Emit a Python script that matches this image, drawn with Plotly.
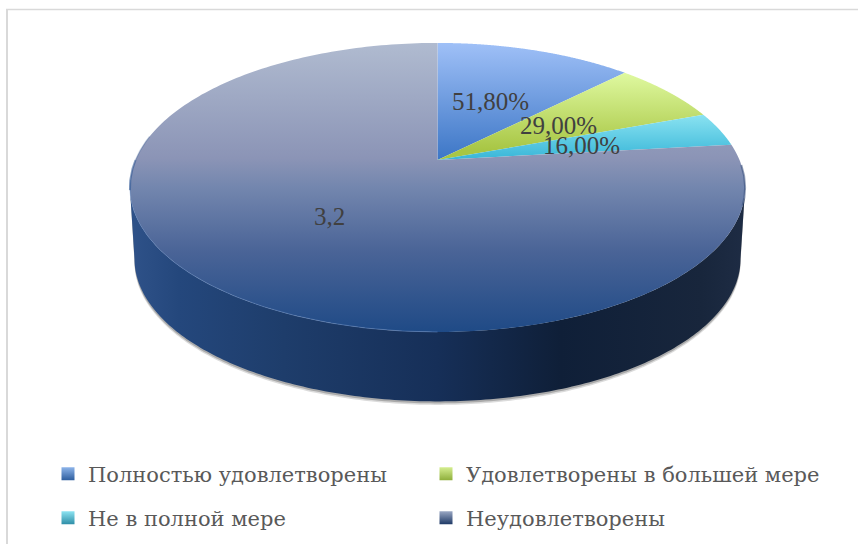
import numpy as np
import plotly.graph_objects as go

categories = ["Полностью удовлетворены", "Удовлетворены в большей мере", "Не в полной мере", "Неудовлетворены"]
values = [0.518, 0.29, 0.16, 3.2]
value_labels = ["51,80%", "29,00%", "16,00%", "3,2"]

top_scales = [
    [[0, "#9FC0F7"], [1, "#3C76C6"]],
    [[0, "#DFF9A0"], [1, "#A8C644"]],
    [[0, "#8DE4F2"], [1, "#38B6D8"]],
    [[0, "#B0BBD0"], [0.40, "#8B94B6"], [0.50, "#7386AE"], [0.72, "#4A6497"], [1, "#1F4A86"]],
]
top_ranges = [(43, 160), (73, 150), (113, 160), (43, 332)]
legend_colors = [("#8DB4EA", "#2F5F9F"), ("#D5EE90", "#8FAF3C"), ("#8DE4F2", "#2F8FA8"), ("#9AA8C4", "#1F3A66")]
legend_names = ["legend", "legend2", "legend3", "legend4"]
legend_x_px = [48, 426, 48, 426]
legend_y_px = [474, 474, 518, 518]

CX, CY, BX, BY, K = 437.5, 160.0, 302.0, 139.3, 0.19
DEPTH, SHRINK = 72.0, 0.985


def project(angle_deg, r=1.0, depth=0.0, scale=1.0):
    """Pie-plane polar position to page position: clockwise degrees from 12 o'clock."""
    a = np.radians(angle_deg)
    u, v = r * np.sin(a), r * np.cos(a)
    d = 1 + K * v
    return CX + scale * BX * u / d, CY - scale * BY * v / d + depth


fractions = np.array(values) / sum(values)
edges = np.concatenate([[0], np.cumsum(fractions)]) * 360

fig = go.Figure()

# front wall: front arc of the top rim joined to the lower rim
alpha = np.degrees(np.arcsin(K))
front = np.linspace(90 + alpha, 270 - alpha, 200)
x_top, y_top = project(front)
x_low, y_low = project(front[::-1], depth=DEPTH, scale=SHRINK)

# soft cast shadow under the wall
for extra, op in [(3.5, 0.25), (2.0, 0.45)]:
    xs, ys = project(front[::-1], depth=DEPTH + extra, scale=SHRINK)
    fig.add_trace(go.Scatter(x=np.r_[x_top, xs], y=np.r_[y_top, ys], fill="toself", mode="none",
                             fillcolor=f"rgba(110,110,110,{op})", showlegend=False, hoverinfo="skip"))
fig.add_trace(go.Scatter(
    x=np.r_[x_top, x_low], y=np.r_[y_top, y_low], fill="toself", mode="none", showlegend=False, hoverinfo="skip",
    fillgradient=dict(type="horizontal", start=130, stop=745, colorscale=[
        [0, "#2F5289"], [0.08, "#24477C"], [0.25, "#1E3D6B"], [0.50, "#162F58"], [0.70, "#0F1F38"],
        [0.93, "#18263C"], [1, "#1E2C44"]]),
))

# top surface wedges
for i in range(len(values)):
    ang = np.linspace(edges[i], edges[i + 1], 240)
    x, y = project(ang)
    fig.add_trace(go.Scatter(
        x=np.r_[CX, x, CX], y=np.r_[CY, y, CY], fill="toself", mode="none", showlegend=False, hoverinfo="skip",
        fillgradient=dict(type="vertical", start=top_ranges[i][0], stop=top_ranges[i][1], colorscale=top_scales[i]),
    ))

# bevel along the rim of the top face
for a0, a1, col, w in [(180, 262, "rgba(100,135,190,0.55)", 1.0),
                       (258, 270, "rgba(45,85,145,0.55)", 2.0),
                       (270, 280, "rgba(45,85,145,0.28)", 1.5),
                       (92, 108, "rgba(45,70,115,0.5)", 2.0)]:
    rim = np.linspace(a0, a1, 100)
    xr, yr = project(rim)
    fig.add_trace(go.Scatter(x=xr, y=yr, mode="lines", line=dict(color=col, width=w),
                             showlegend=False, hoverinfo="skip"))

# legend entries
for name, (c1, c2), lg in zip(categories, legend_colors, legend_names):
    fig.add_trace(go.Scatter(x=[None], y=[None], mode="markers", name=name, legend=lg, showlegend=True,
                             marker=dict(symbol="square", size=13, color=c1,
                                         gradient=dict(type="vertical", color=c2))))

# data labels
for i, txt in enumerate(value_labels):
    lx, ly = project((edges[i] + edges[i + 1]) / 2, r=0.5)
    fig.add_annotation(x=float(lx), y=float(ly) + 1, text=txt, showarrow=False,
                       font=dict(family="Liberation Serif", size=25, color="#404040"))

legend_style = dict(orientation="h", xanchor="left", yanchor="middle", bgcolor="rgba(0,0,0,0)",
                    font=dict(family="DejaVu Serif", size=21, color="#595959"))
legends = {lg: dict(x=px / 858, y=1 - py / 544, **legend_style)
           for lg, px, py in zip(legend_names, legend_x_px, legend_y_px)}

fig.update_layout(
    width=858, height=544, margin=dict(l=0, r=0, t=0, b=0), autosize=False,
    paper_bgcolor="white", plot_bgcolor="white",
    xaxis=dict(range=[0, 858], visible=False, fixedrange=True),
    yaxis=dict(range=[544, 0], visible=False, fixedrange=True),
    shapes=[dict(type="line", xref="x", yref="y", x0=6, y0=9.5, x1=858, y1=9.5,
                 line=dict(color="#D9D9D9", width=1.5), layer="below"),
            dict(type="line", xref="x", yref="y", x0=7, y0=9, x1=7, y1=544,
                 line=dict(color="#D9D9D9", width=2), layer="below")],
    **legends,
)

fig.write_html("out.html", config=dict(displayModeBar=False),
               post_script="document.body.style.margin='0';document.body.style.overflow='hidden';")
